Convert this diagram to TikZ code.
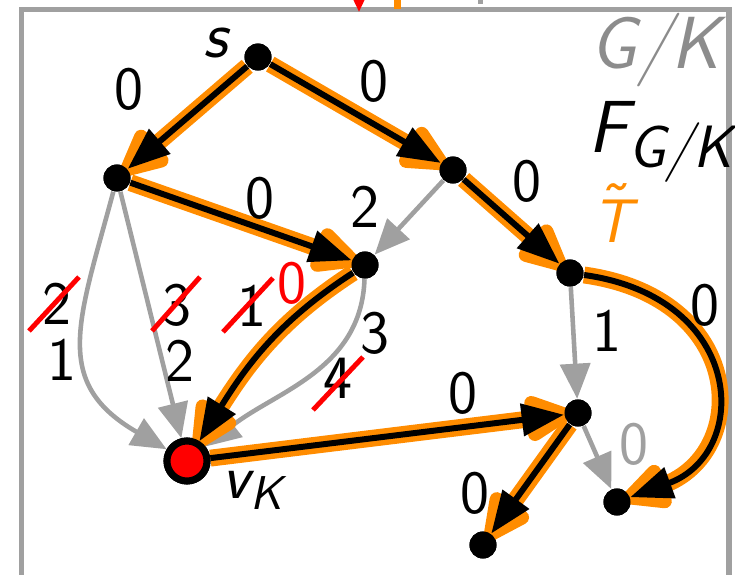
\documentclass[tikz,border=0pt]{standalone}
\usepackage{tikz}
\usetikzlibrary{arrows.meta,calc}
\definecolor{TreeOrange}{RGB}{255,140,0}
\definecolor{EdgeGray}{RGB}{160,160,160}
\definecolor{QuotGray}{RGB}{140,140,140}
\definecolor{CutRed}{RGB}{255,0,0}

\begin{document}
\begin{tikzpicture}[
    x=0.01cm, y=0.01cm,
    vtx/.style={circle,fill=black,inner sep=0pt,minimum size=0.27cm},
    root/.style={circle,draw=black,fill=CutRed,line width=2pt,inner sep=0pt,minimum size=0.4cm},
    lbl/.style={inner sep=0pt,font=\sffamily\fontsize{17.5}{20}\selectfont},
    mlbl/.style={inner sep=0pt,anchor=base west,font=\sffamily\itshape\fontsize{21}{24}\selectfont},
    gedge/.style={draw=EdgeGray,line width=1.3pt,-{Triangle[length=10pt,width=8.5pt]}},
    tedge/.style={draw=black,line width=1.7pt,-{Triangle[length=12pt,width=9pt]},
      preaction={draw=TreeOrange,line width=4.8pt,-{Triangle[length=16pt,width=14pt,round]},shorten >=-2.2pt}},
    strike/.style={draw=CutRed,line width=1.4pt}
  ]
  \useasboundingbox (0,0) rectangle (735,-575);
  % frame of G/K and what enters it from above
  \draw[EdgeGray,line width=1.7pt] (21.5,-620) |- (729,-9.5) -- (729,-620);
  \coordinate (redtop) at (359,10);
  \coordinate (redend) at (359,-12);
  \coordinate (orgtop) at (397.5,10);
  \coordinate (orgend) at (397.5,-9);
  \coordinate (grytop) at (480.5,10);
  \coordinate (gryend) at (480.5,-4);
  \draw[CutRed,line width=1.7pt,-{Triangle[length=10pt,width=9pt]}] (redtop) -- (redend);
  \draw[TreeOrange,line width=2pt] (orgtop) -- (orgend);
  \draw[EdgeGray,line width=1.3pt] (grytop) -- (gryend);

  % vertices
  \node[vtx] (s) at (258,-57) {};
  \node[vtx] (a) at (117,-178) {};
  \node[vtx] (b) at (453,-170) {};
  \node[vtx] (c) at (365,-265) {};
  \node[vtx] (d) at (570,-273) {};
  \node[vtx] (e) at (578,-413) {};
  \node[vtx] (f) at (617,-502) {};
  \node[vtx] (g) at (483,-545) {};
  \node[root] (vK) at (187,-461) {};

  % edges not in the tree
  \draw[gedge] (a) to[out=255,in=150,looseness=1.3] (vK);
  \draw[gedge] (a) -- (vK);
  \draw[gedge] (b) -- (c);
  \draw[gedge] (c) to[out=268,in=38] (vK);
  \draw[gedge] (d) -- (e);
  \draw[gedge] (e) -- (f);

  % tree edges
  \draw[tedge] (s) -- (a);
  \draw[tedge] (s) -- (b);
  \draw[tedge] (b) -- (d);
  \draw[tedge] (a) -- (c);
  \draw[tedge] (c) to[out=213,in=58] (vK);
  \draw[tedge] (vK) -- (e);
  \draw[tedge] (e) -- (g);
  \draw[tedge] (d) to[out=-8,in=20,out looseness=1.85,in looseness=1.45] (f);

  % redraw vertices over the halos
  \foreach \v in {s,a,b,c,d,e,f,g}
    \fill (\v) circle[radius=0.135cm];
  \draw[line width=2pt,fill=CutRed] (vK) circle[radius=0.2cm];

  % weights
  \node[lbl] (wsa) at (129,-89) {0};
  \node[lbl] (wsb) at (374,-81) {0};
  \node[lbl] (wbd) at (527,-181) {0};
  \node[lbl] (wac) at (260,-198) {0};
  \node[lbl] (wbc) at (365,-207) {2};
  \node[lbl] (wavold) at (57,-304) {2};
  \node[lbl] (wavnew) at (62,-360) {1};
  \node[lbl] (wavsold) at (177,-305) {3};
  \node[lbl] (wavsnew) at (180,-361) {2};
  \node[lbl] (wcvold) at (252,-306) {1};
  \node[lbl,text=CutRed] (wcvnew) at (292,-283) {0};
  \node[lbl] (wcvgnew) at (375,-333) {3};
  \node[lbl] (wcvgold) at (338,-378) {4};
  \node[lbl] (wve) at (463,-393) {0};
  \node[lbl] (wde) at (607,-331) {1};
  \node[lbl] (wdf) at (705,-305) {0};
  \node[lbl,text=EdgeGray] (wef) at (634,-444) {0};
  \node[lbl] (weg) at (475,-493) {0};
  \draw[strike] ($(wavold)+(-28,-27)$) -- ($(wavold)+(22,27)$);
  \draw[strike] ($(wavsold)+(-25,-26)$) -- ($(wavsold)+(23,28)$);
  \draw[strike] ($(wcvold)+(-29,-26)$) -- ($(wcvold)+(21,28)$);
  \draw[strike] ($(wcvgold)+(-25,-32)$) -- ($(wcvgold)+(25,21)$);

  % names
  \node[mlbl,font=\sffamily\itshape\fontsize{19}{22}\selectfont] (sname) at (203,-57) {s};
  \node[mlbl,font=\sffamily\itshape\fontsize{18}{22}\selectfont] (vname) at (222,-498)
    {v\raisebox{-3.4pt}{\fontsize{13.5}{14}\selectfont K}};
  \node[mlbl,text=QuotGray] (quot) at (590,-68) {G/K};
  \node[mlbl] (forest) at (588,-152) {F\raisebox{-4.3pt}{\fontsize{17}{18}\selectfont G/K}};
  \node[mlbl,text=TreeOrange,font=\sffamily\itshape\fontsize{17.5}{22}\selectfont] (tree) at (592,-242)
    {\makebox[0pt][l]{\hspace{0.5pt}\smash{\raisebox{5pt}{\symbol{"02DC}}}}T};
\end{tikzpicture}
\end{document}
